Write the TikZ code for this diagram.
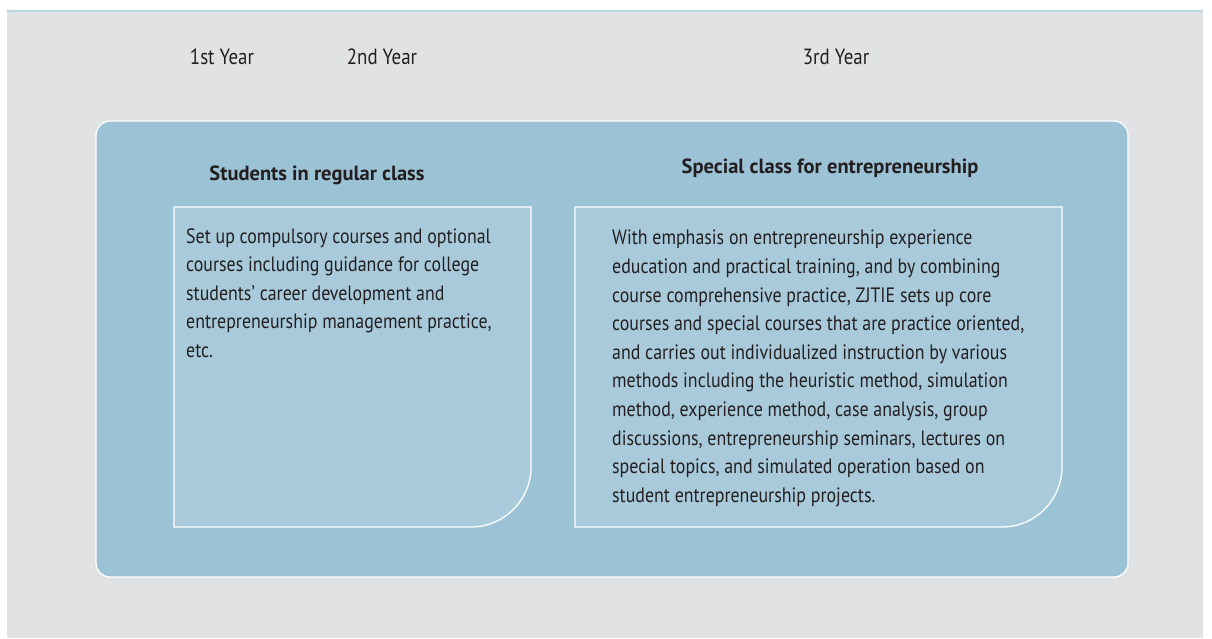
\documentclass[tikz,border=0pt]{standalone}
\usepackage{fontspec}
\setmainfont{PT Sans}[FakeStretch=0.86]
\newfontfamily\titlefont{PT Sans}
\usetikzlibrary{positioning}
\definecolor{pagegray}{HTML}{E1E2E4}
\definecolor{topline}{HTML}{BCD6E3}
\definecolor{outerblue}{HTML}{9CC2D6}
\definecolor{innerblue}{HTML}{A8CADB}
\definecolor{textgray}{HTML}{231F20}
\tikzset{
  yearlabel/.style={font=\fontsize{22}{26}\selectfont, text=textgray, inner sep=0pt},
  classtitle/.style={font=\titlefont\fontsize{20.5}{24}\selectfont\bfseries, text=textgray, inner sep=0pt},
  classtext/.style={font=\fontsize{20.8}{28.6}\selectfont, text=textgray, align=left, inner sep=0pt, anchor=north west},
  innerbox/.style={draw=white, line width=1.3pt, fill=innerblue}
}
\begin{document}
\begin{tikzpicture}[x=1pt, y=-1pt]
\useasboundingbox (0,0) rectangle (1212,638);
% page background
\fill[white] (0,0) rectangle (1212,638);
\fill[pagegray] (7,11) rectangle (1203,638);
\draw[topline, line width=1.5pt] (7,11) -- (1203,11);

% years
\foreach \name/\x/\txt in {year1/222/1st Year, year2/382/2nd Year, year3/836/3rd Year}
    \node[yearlabel] (\name) at (\x,57) {\txt};

% outer panel
\draw[draw=white, line width=1.3pt, fill=outerblue, rounded corners=14pt] (96,121) rectangle (1128,577);

% regular class
\node[classtitle] (regtitle) at (317,175) {Students in regular class};
\draw[innerbox] (174,207) -- (531,207) [rounded corners=60pt] -- (531,527) [sharp corners] -- (174,527) -- cycle;
\node[classtext] (regtext) at (186,228) {Set up compulsory courses and optional\\
courses including guidance for college\\
students’ career development and\\
entrepreneurship management practice,\\
etc.};

% special class
\node[classtitle] (spectitle) at (830,168) {Special class for entrepreneurship};
\draw[innerbox] (575,207) -- (1062,207) [rounded corners=60pt] -- (1062,527) [sharp corners] -- (575,527) -- cycle;
\node[classtext] (spectext) at (612,230) {With emphasis on entrepreneurship experience\\
education and practical training, and by combining\\
course comprehensive practice, ZJTIE sets up core\\
courses and special courses that are practice oriented,\\
and carries out individualized instruction by various\\
methods including the heuristic method, simulation\\
method, experience method, case analysis, group\\
discussions, entrepreneurship seminars, lectures on\\
special topics, and simulated operation based on\\
student entrepreneurship projects.};
\end{tikzpicture}
\end{document}
